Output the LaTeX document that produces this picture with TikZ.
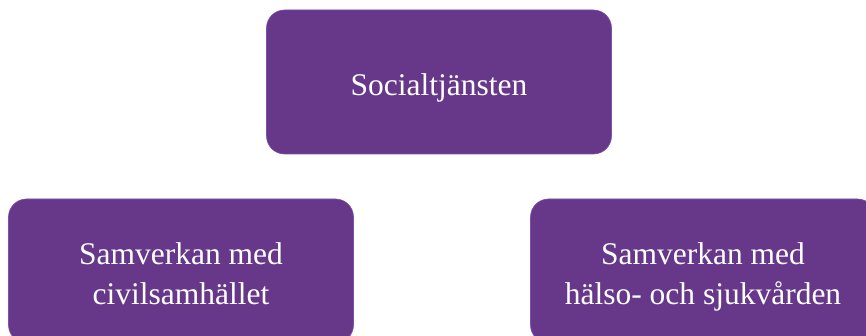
\documentclass[tikz,border=0pt]{standalone}
\usepackage{fontspec}
\setmainfont{Liberation Serif}
\definecolor{boxpurple}{RGB}{103,56,137}
\definecolor{boxedge}{RGB}{125,80,170}
\begin{document}
\begin{tikzpicture}[x=1pt,y=-1pt,
  box/.style={rectangle, rounded corners=18pt, fill=boxpurple, draw=boxedge, line width=0.6pt,
    minimum width=345pt, minimum height=144pt, inner sep=0pt},
  boxtext/.style={inner sep=0pt, text=white, align=center, anchor=base,
    font=\fontsize{31.5}{39.5}\selectfont}]
\useasboundingbox (0,0) rectangle (866,336);
\clip (0,0) rectangle (866,336);
\node[box] (top) at (439,82) {};
\node[box] (left) at (181,271) {};
\node[box] (right) at (703,271) {};
\node[boxtext] (toptext) at (top.center |- 0,96) {Socialtjänsten};
\node[boxtext] (lefttext) at (left.center |- 0,304) {Samverkan med\\civilsamhället};
\node[boxtext] (righttext) at (right.center |- 0,304) {Samverkan med\\hälso- och sjukvården};
\end{tikzpicture}
\end{document}
